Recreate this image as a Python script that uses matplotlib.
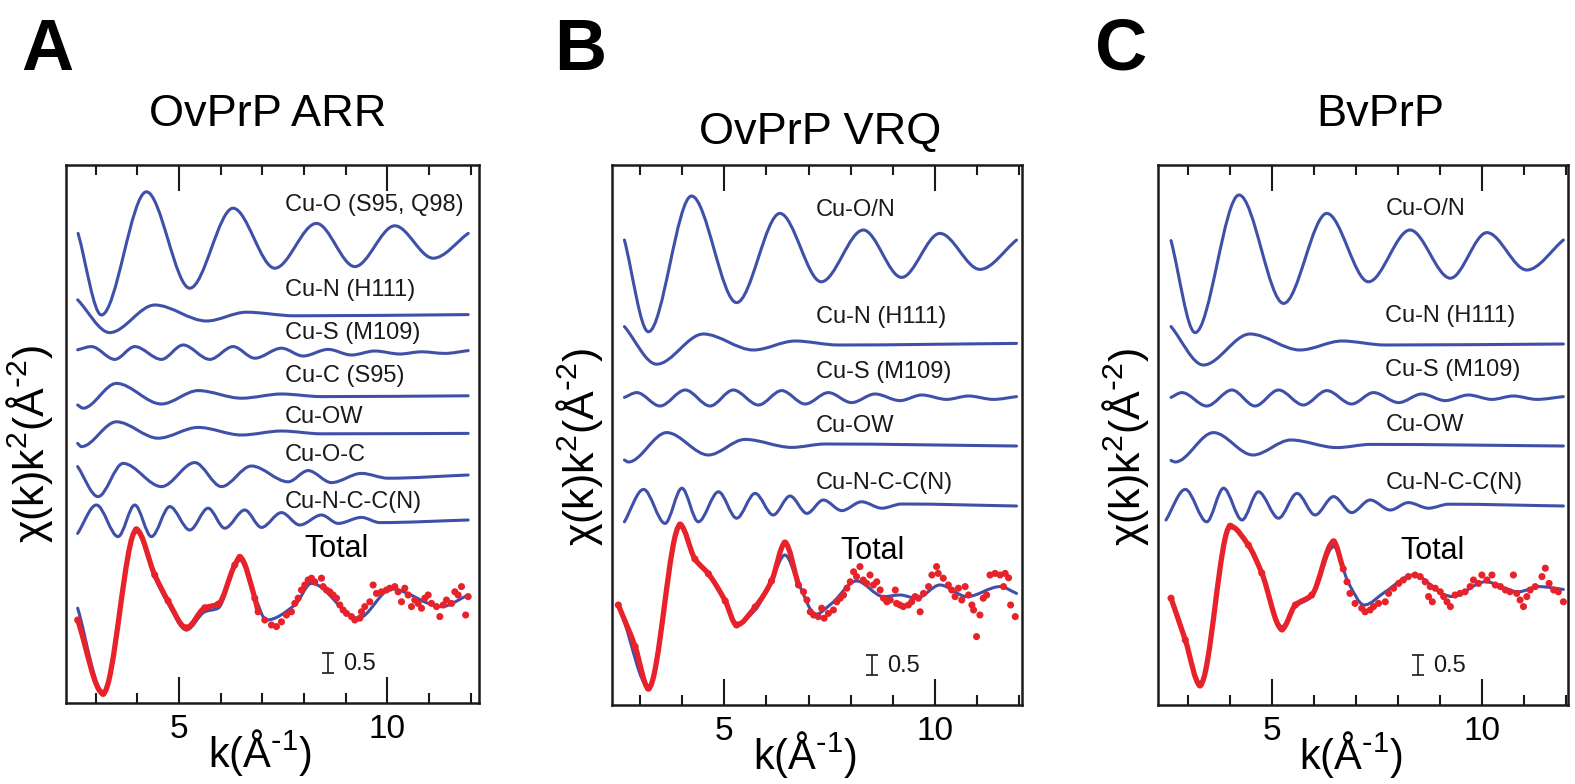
import numpy as np
import matplotlib
matplotlib.use("Agg")
import matplotlib.pyplot as plt
from matplotlib.path import Path
from matplotlib.patches import PathPatch
from matplotlib.ticker import MultipleLocator

plt.rcParams['font.family'] = ['Liberation Sans', 'DejaVu Sans']
plt.rcParams['mathtext.default'] = 'regular'

# values: k in 1/A, chi(k)k^2 relative to each curve's own baseline
# --- A: OvPrP ARR ---
arr_cuo_k = [2.58, 3.14, 4.22, 5.26, 6.30, 7.30, 8.30, 9.22, 10.18, 11.10, 11.94]
arr_cuo_y = [0.29, -1.75, 1.33, -1.08, 0.92, -0.58, 0.54, -0.54, 0.48, -0.33, 0.29]
arr_cun_k = [2.57, 3.34, 4.42, 5.66, 6.62, 7.78, 11.94]
arr_cun_y = [0.37, -0.45, 0.24, -0.16, 0.06, -0.03, 0.0]
arr_cus_k = [2.57, 2.90, 3.46, 3.94, 4.58, 5.10, 5.74, 6.30, 6.82, 7.46, 7.98, 8.58, 9.14, 9.70, 10.30, 10.82, 11.38, 11.94]
arr_cus_y = [0.07, 0.15, -0.17, 0.15, -0.17, 0.19, -0.17, 0.15, -0.14, 0.11, -0.085, 0.08, -0.06, 0.04, -0.035, 0.02, -0.02, 0.05]
arr_cuc_k = [2.57, 2.70, 3.50, 4.58, 5.46, 6.50, 7.46, 8.42, 11.94]
arr_cuc_y = [-0.23, -0.31, 0.31, -0.205, 0.13, -0.06, 0.045, -0.02, 0.0]
arr_cuow_k = [2.57, 2.66, 3.50, 4.50, 5.46, 6.50, 7.46, 8.42, 11.94]
arr_cuow_y = [-0.25, -0.33, 0.29, -0.12, 0.15, -0.04, 0.06, -0.01, 0.0]
arr_cuoc_k = [2.57, 3.06, 3.66, 4.58, 5.38, 6.02, 6.74, 7.62, 8.10, 8.66, 9.38, 10.02, 11.94]
arr_cuoc_y = [0.21, -0.54, 0.29, -0.29, 0.31, -0.29, 0.225, -0.17, 0.11, -0.19, 0.04, -0.08, 0.0]
arr_cuncc_k = [2.57, 3.02, 3.54, 3.94, 4.34, 4.78, 5.26, 5.70, 6.10, 6.58, 6.98, 7.46, 7.90, 8.42, 8.82, 9.38, 9.82, 11.94]
arr_cuncc_y = [-0.335, 0.375, -0.415, 0.375, -0.415, 0.335, -0.25, 0.295, -0.205, 0.25, -0.185, 0.185, -0.125, 0.125, -0.085, 0.065, -0.065, 0.0]
arr_fit_k = [2.57, 3.18, 3.98, 4.42, 4.74, 5.18, 5.62, 5.94, 6.34, 6.46, 6.82, 7.10, 7.78, 8.18, 9.30, 10.10, 11.30, 11.94]
arr_fit_y = [-0.13, -2.22, 1.78, 0.64, -0.01, -0.675, -0.22, -0.13, 0.91, 1.075, 0.16, -0.425, -0.05, 0.49, -0.38, 0.35, -0.09, 0.20]
arr_data_k = [2.57, 3.18, 3.98, 4.42, 4.74, 5.18, 5.62, 5.94, 6.34, 6.46, 6.82,
              6.90, 7.06, 7.22, 7.34, 7.46, 7.58, 7.70, 7.78, 7.86, 7.94,
              8.02, 8.10, 8.18, 8.26, 8.42, 8.46, 8.54, 8.62, 8.70, 8.78,
              8.86, 8.94, 9.02, 9.14, 9.22, 9.34, 9.38, 9.46, 9.58, 9.66,
              9.74, 9.86, 9.98, 10.06, 10.18, 10.26, 10.34, 10.42, 10.50, 10.58,
              10.66, 10.74, 10.82, 10.90, 10.98, 11.06, 11.18, 11.26, 11.34, 11.42,
              11.54, 11.62, 11.70, 11.78, 11.88, 11.94]
arr_data_y = [-0.425, -2.26, 1.83, 0.70, 0.05, -0.62, -0.12, -0.03, 0.95, 1.14, 0.12,
              -0.22, -0.425, -0.55, -0.59, -0.47, -0.30, -0.22, -0.01, 0.12, 0.325,
              0.45, 0.575, 0.62, 0.53, 0.62, 0.41, 0.325, 0.28, 0.20, 0.12,
              -0.05, -0.175, -0.26, -0.34, -0.425, -0.38, -0.22, -0.09, 0.03, 0.45,
              0.24, 0.28, 0.325, 0.37, 0.41, 0.28, 0.03, 0.37, 0.20, -0.09,
              0.075, -0.01, -0.13, 0.12, 0.20, -0.01, -0.09, -0.34, -0.05, 0.075,
              -0.01, 0.28, 0.20, 0.41, -0.30, 0.16]

# --- B: OvPrP VRQ ---
vrq_cuon_k = [2.625, 3.195, 4.22, 5.29, 6.32, 7.30, 8.30, 9.21, 10.12, 11.07, 11.94]
vrq_cuon_y = [0.325, -1.97, 1.425, -1.24, 0.99, -0.72, 0.575, -0.61, 0.49, -0.41, 0.325]
vrq_cun_k = [2.625, 3.39, 4.50, 5.69, 6.68, 7.71, 11.94]
vrq_cun_y = [0.42, -0.52, 0.235, -0.165, 0.06, -0.04, 0.0]
vrq_cus_k = [2.625, 2.92, 3.47, 4.07, 4.66, 5.21, 5.81, 6.36, 6.92, 7.47, 8.02, 8.58, 9.17, 9.69, 10.28, 10.80, 11.39, 11.94]
vrq_cus_y = [0.0, 0.12, -0.215, 0.185, -0.215, 0.185, -0.19, 0.17, -0.165, 0.12, -0.13, 0.085, -0.08, 0.06, -0.05, 0.035, -0.05, 0.02]
vrq_cuow_k = [2.625, 2.72, 3.63, 4.62, 5.49, 6.60, 7.39, 11.94]
vrq_cuow_y = [-0.35, -0.40, 0.335, -0.225, 0.165, -0.035, 0.05, 0.0]
vrq_cuncc_k = [2.625, 3.08, 3.59, 3.99, 4.38, 4.86, 5.29, 5.73, 6.16, 6.56, 6.96, 7.35, 7.79, 8.26, 8.74, 9.21, 11.94]
vrq_cuncc_y = [-0.395, 0.415, -0.435, 0.445, -0.395, 0.355, -0.305, 0.315, -0.225, 0.25, -0.185, 0.15, -0.115, 0.105, -0.055, 0.05, 0.0]
vrq_fit_k = [2.60, 3.195, 3.95, 4.30, 4.62, 5.02, 5.29, 5.73, 6.12, 6.44, 6.76, 7.17, 7.55, 8.14, 8.78, 9.17, 9.57, 10.12, 10.76, 11.55, 11.94]
vrq_fit_y = [-0.35, -2.04, 1.96, 1.125, 0.79, 0.125, -0.46, -0.125, 0.625, 1.25, 0.54, -0.23, 0.04, 0.60, 0.21, 0.25, 0.17, 0.50, 0.21, 0.46, 0.29]
vrq_data_k = [2.48, 2.88, 3.195, 3.95, 4.30, 4.62, 5.02, 5.29, 5.73, 6.12, 6.44, 6.76,
              6.88, 6.96, 7.04, 7.12, 7.23, 7.31, 7.37, 7.47, 7.59, 7.67,
              7.75, 7.83, 7.91, 7.99, 8.07, 8.14, 8.22, 8.30, 8.38, 8.46,
              8.54, 8.62, 8.70, 8.78, 8.86, 8.94, 9.06, 9.09, 9.17, 9.25,
              9.37, 9.45, 9.53, 9.61, 9.65, 9.73, 9.85, 9.93, 10.04, 10.08,
              10.20, 10.32, 10.40, 10.48, 10.56, 10.64, 10.72, 10.80, 10.88, 10.92,
              10.99, 11.07, 11.15, 11.23, 11.31, 11.43, 11.55, 11.63, 11.67, 11.75,
              11.80, 11.91]
vrq_data_y = [0.0, -1.04, -2.08, 2.0, 1.15, 0.78, 0.1, -0.5, -0.05, 0.6, 1.55, 0.5,
              0.33, 0.125, -0.17, -0.25, -0.29, -0.08, -0.33, -0.21, -0.125, 0.08,
              0.17, 0.25, 0.42, 0.58, 0.83, 0.71, 0.96, 0.625, 0.54, 0.75,
              0.5, 0.58, 0.375, 0.17, 0.08, 0.125, 0.375, 0.04, 0.0, -0.04,
              0.0, 0.08, 0.21, 0.17, -0.17, 0.29, 0.46, 0.75, 0.96, 0.79,
              0.67, 0.5, 0.375, 0.21, 0.42, 0.125, 0.46, 0.25, 0.0, -0.125,
              -0.79, -0.25, 0.17, 0.25, 0.75, 0.79, 0.75, 0.46, 0.79, 0.68,
              0.0, -0.29]

# --- C: BvPrP ---
bv_cuon_k = [2.60, 3.175, 4.22, 5.28, 6.31, 7.30, 8.29, 9.25, 10.12, 11.07, 11.94]
bv_cuon_y = [0.31, -1.99, 1.45, -1.26, 0.99, -0.72, 0.575, -0.63, 0.51, -0.425, 0.325]
bv_cun_k = [2.60, 3.37, 4.48, 5.67, 6.67, 7.70, 11.94]
bv_cun_y = [0.435, -0.525, 0.25, -0.15, 0.075, -0.025, 0.0]
bv_cus_k = [2.60, 2.86, 3.45, 4.05, 4.60, 5.16, 5.75, 6.31, 6.90, 7.42, 8.02, 8.57, 9.13, 9.68, 10.24, 10.75, 11.31, 11.94]
bv_cus_y = [0.0, 0.12, -0.215, 0.185, -0.215, 0.185, -0.19, 0.17, -0.165, 0.12, -0.13, 0.085, -0.08, 0.06, -0.05, 0.035, -0.05, 0.02]
bv_cuow_k = [2.60, 2.70, 3.61, 4.55, 5.45, 6.55, 7.35, 11.94]
bv_cuow_y = [-0.36, -0.40, 0.335, -0.225, 0.15, -0.04, 0.04, 0.0]
bv_cuncc_k = [2.48, 2.94, 3.45, 3.85, 4.29, 4.68, 5.16, 5.60, 6.03, 6.47, 6.90, 7.34, 7.82, 8.25, 8.73, 9.21, 11.94]
bv_cuncc_y = [-0.35, 0.415, -0.395, 0.445, -0.35, 0.355, -0.305, 0.315, -0.225, 0.235, -0.165, 0.15, -0.10, 0.085, -0.055, 0.045, 0.0]
bv_fit_k = [2.60, 2.94, 3.29, 4.01, 4.44, 4.76, 5.24, 5.56, 5.95, 6.47, 6.83, 7.20, 7.70, 8.37, 9.13, 9.29, 10.08, 10.87, 11.35, 11.94]
bv_fit_y = [0.17, -0.875, -1.94, 1.94, 1.46, 0.79, -0.54, -0.04, 0.21, 1.46, 0.54, 0.0, 0.33, 0.75, 0.25, 0.21, 0.58, 0.33, 0.46, 0.39]
bv_data_k = [2.60, 2.94, 3.29, 4.01, 4.44, 4.76, 5.24, 5.56, 5.95, 6.47, 6.70,
             6.79, 6.86, 6.98, 7.14, 7.22, 7.34, 7.42, 7.54, 7.70, 7.78,
             7.90, 8.02, 8.13, 8.25, 8.41, 8.53, 8.65, 8.73, 8.77, 8.82,
             8.89, 9.01, 9.09, 9.17, 9.25, 9.36, 9.48, 9.60, 9.72, 9.80,
             9.92, 10.00, 10.12, 10.24, 10.32, 10.44, 10.56, 10.67, 10.75, 10.83,
             10.91, 10.99, 11.07, 11.15, 11.27, 11.43, 11.51, 11.60, 11.71, 11.82,
             11.94]
bv_data_y = [0.17, -0.875, -2.0, 1.97, 1.5, 0.8, -0.6, 0.0, 0.25, 1.58, 0.9,
             0.58, 0.29, 0.04, -0.08, -0.17, -0.125, -0.04, 0.04, 0.08, 0.29,
             0.42, 0.54, 0.625, 0.71, 0.75, 0.71, 0.58, 0.21, 0.46, 0.08,
             0.42, 0.33, 0.21, 0.08, -0.04, 0.25, 0.29, 0.33, 0.46, 0.625,
             0.54, 0.75, 0.625, 0.75, 0.5, 0.46, 0.375, 0.33, 0.75, 0.29,
             0.125, -0.04, 0.21, 0.375, 0.46, 0.71, 0.92, 0.54, 0.375, 0.33,
             0.08]

BLUE = '#3f50a8'
RED = '#e8222a'
INK = '#1a1a1a'


def smooth_curve(ax, k, y, **kw):
    # monotone cubic (PCHIP-style tangents) drawn as Bezier segments
    x = np.asarray(k, float)
    y = np.asarray(y, float)
    h = np.diff(x)
    d = np.diff(y) / h
    m = np.zeros_like(x)
    m[0], m[-1] = d[0], d[-1]
    for i in range(1, len(x) - 1):
        if d[i - 1] * d[i] > 0:
            w1, w2 = 2 * h[i] + h[i - 1], h[i] + 2 * h[i - 1]
            m[i] = (w1 + w2) / (w1 / d[i - 1] + w2 / d[i])
    verts = [(x[0], y[0])]
    for i in range(len(h)):
        verts += [(x[i] + h[i] / 3, y[i] + m[i] * h[i] / 3),
                  (x[i + 1] - h[i] / 3, y[i + 1] - m[i + 1] * h[i] / 3),
                  (x[i + 1], y[i + 1])]
    codes = [Path.MOVETO] + [Path.CURVE4] * (len(verts) - 1)
    ax.add_patch(PathPatch(Path(verts, codes), fill=False, capstyle='round',
                           joinstyle='round', **kw))


def draw_panel(ax, comps, fit, data, dense_cut, xlim, ylim, label_k, bar_k, ylab):
    for (name, k, y, off, ly) in comps:
        smooth_curve(ax, k, np.asarray(y) + off, ec=BLUE, lw=2.2, zorder=2)
        ax.text(label_k, ly, name, fontsize=17, ha='left', va='center', color=INK)
    tot_off = 2.5
    smooth_curve(ax, fit[0], np.asarray(fit[1]) + tot_off, ec=BLUE, lw=2.2, zorder=3)
    dk = np.asarray(data[0])
    dy = np.asarray(data[1]) + tot_off
    sel = dk <= dense_cut
    smooth_curve(ax, dk[sel], dy[sel], ec=RED, lw=3.8, zorder=4)
    ax.scatter(dk, dy, s=26, color=RED, edgecolors='none', zorder=5)
    ax.text(bar_k[0], 3.85, 'Total', fontsize=22, ha='center', va='center', color='black')
    ax.errorbar([bar_k[1]], [1.0], yerr=0.25, fmt='none', ecolor=INK, elinewidth=1.2,
                capsize=4.5, capthick=1.2)
    ax.text(bar_k[1] + 0.36, 0.98, '0.5', fontsize=17, ha='left', va='center', color=INK)

    ax.set_xlim(*xlim)
    ax.set_ylim(*ylim)
    ax.set_xticks([5, 10])
    ax.set_xticklabels(['5', '10'])
    ax.xaxis.set_minor_locator(MultipleLocator(1))
    ax.set_yticks([])
    ax.tick_params(axis='x', which='both', direction='in', top=True, bottom=True,
                   width=1.5, color=INK, labelsize=24, pad=8)
    ax.tick_params(axis='x', which='major', length=19)
    ax.tick_params(axis='x', which='minor', length=7)
    for s in ax.spines.values():
        s.set_linewidth(1.8)
        s.set_color(INK)
    ax.set_xlabel(r'k(Å$^{\text{-}1}$)', fontsize=30)
    ax.xaxis.set_label_coords(0.47, -0.045)
    ax.set_ylabel(r'χ(k)k$^{2}$(Å$^{\text{-}2}$)', fontsize=31)
    ax.yaxis.set_label_coords(ylab[0], ylab[1])


fig = plt.figure(figsize=(15.75, 7.84), dpi=100)
axA = fig.add_axes([66 / 1575, 1 - 703 / 784, 413 / 1575, 538 / 784])
axB = fig.add_axes([612 / 1575, 1 - 705 / 784, 410 / 1575, 540 / 784])
axC = fig.add_axes([1158 / 1575, 1 - 705 / 784, 410 / 1575, 540 / 784])

compsA = [
    ('Cu-O (S95, Q98)', arr_cuo_k, arr_cuo_y, 11.45, 12.45),
    ('Cu-N (H111)', arr_cun_k, arr_cun_y, 9.71, 10.33),
    ('Cu-S (M109)', arr_cus_k, arr_cus_y, 8.76, 9.24),
    ('Cu-C (S95)', arr_cuc_k, arr_cuc_y, 7.68, 8.18),
    ('Cu-OW', arr_cuow_k, arr_cuow_y, 6.74, 7.16),
    ('Cu-O-C', arr_cuoc_k, arr_cuoc_y, 5.70, 6.20),
    ('Cu-N-C-C(N)', arr_cuncc_k, arr_cuncc_y, 4.575, 5.03),
]
draw_panel(axA, compsA, (arr_fit_k, arr_fit_y), (arr_data_k, arr_data_y), 6.95,
           (2.29, 12.20), (0, 13.45), 7.54, (8.78, 8.58), (-0.027, 0.482))

compsB = [
    ('Cu-O/N', vrq_cuon_k, vrq_cuon_y, 11.3, 12.375),
    ('Cu-N (H111)', vrq_cun_k, vrq_cun_y, 9.04, 9.71),
    ('Cu-S (M109)', vrq_cus_k, vrq_cus_y, 7.69, 8.33),
    ('Cu-OW', vrq_cuow_k, vrq_cuow_y, 6.475, 6.975),
    ('Cu-N-C-C(N)', vrq_cuncc_k, vrq_cuncc_y, 4.975, 5.56),
]
draw_panel(axB, compsB, (vrq_fit_k, vrq_fit_y), (vrq_data_k, vrq_data_y), 6.8,
           (2.33, 12.07), (0, 13.5), 7.18, (8.52, 8.50), (-0.017, 0.478))

compsC = [
    ('Cu-O/N', bv_cuon_k, bv_cuon_y, 11.3, 12.39),
    ('Cu-N (H111)', bv_cun_k, bv_cun_y, 9.025, 9.725),
    ('Cu-S (M109)', bv_cus_k, bv_cus_y, 7.69, 8.375),
    ('Cu-OW', bv_cuow_k, bv_cuow_y, 6.475, 6.99),
    ('Cu-N-C-C(N)', bv_cuncc_k, bv_cuncc_y, 4.975, 5.56),
]
draw_panel(axC, compsC, (bv_fit_k, bv_fit_y), (bv_data_k, bv_data_y), 6.75,
           (2.29, 12.05), (0, 13.5), 7.70, (8.83, 8.49), (-0.017, 0.478))

fig.text(268 / 1575, 1 - 114 / 784, 'OvPrP ARR', fontsize=32.5, ha='center', va='center')
fig.text(820 / 1575, 1 - 132 / 784, 'OvPrP VRQ', fontsize=32.5, ha='center', va='center')
fig.text(1380 / 1575, 1 - 114 / 784, 'BvPrP', fontsize=32.5, ha='center', va='center')

for letter, x in (('A', 21), ('B', 554), ('C', 1095)):
    fig.text(x / 1575, 1 - 70 / 784, letter, fontsize=52, fontweight='bold',
             ha='left', va='baseline')

fig.savefig('out.png', dpi=100)
